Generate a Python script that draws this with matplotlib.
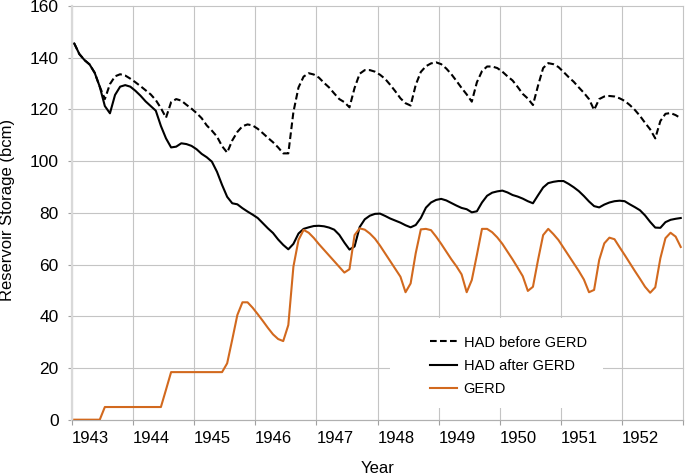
import numpy as np
import matplotlib.pyplot as plt
from matplotlib.patches import Rectangle

# monthly storage (bcm), Jan 1943 .. Dec 1952
years = list(range(1943, 1953))
series_labels = ["HAD before GERD", "HAD after GERD", "GERD"]

had_before = [
    145.5, 141.4, 139.1, 137.4, 134.2, 128.8, 124.0, 129.8, 132.8, 133.6, 133.1, 131.9,
    130.5, 129.0, 127.4, 125.8, 123.6, 120.5, 116.8, 122.8, 124.0, 123.4, 121.8, 120.3,
    118.6, 116.6, 113.8, 111.8, 109.5, 105.8, 103.3, 108.0, 111.3, 113.5, 114.2, 113.8,
    112.5, 110.8, 109.0, 107.3, 105.3, 103.0, 103.0, 119.0, 128.5, 132.7, 134.0, 133.5,
    132.3, 130.3, 128.5, 126.2, 124.0, 122.8, 120.8, 128.3, 133.8, 135.2, 135.2, 134.6,
    133.4, 131.8, 129.5, 127.0, 124.3, 122.4, 121.5, 129.5, 134.5, 136.7, 137.8, 138.2,
    137.5, 135.8, 133.6, 131.0, 128.3, 125.8, 123.0, 130.5, 134.8, 136.6, 136.6, 136.0,
    134.6, 132.8, 131.2, 128.7, 126.0, 124.2, 121.7, 129.2, 136.0, 137.9, 137.5, 136.4,
    134.5, 132.5, 130.7, 128.5, 126.4, 124.0, 119.8, 124.0, 125.0, 125.2, 125.0, 124.3,
    123.3, 121.7, 119.8, 117.5, 114.8, 112.3, 108.8, 115.5, 118.3, 118.6, 117.8, 116.6,
]

had_after = [
    145.5, 141.4, 139.1, 137.4, 134.2, 128.8, 121.3, 118.5, 125.6, 128.8, 129.4, 128.8,
    127.2, 125.3, 123.1, 121.3, 119.5, 113.6, 108.8, 105.3, 105.6, 106.9, 106.6, 105.9,
    104.6, 102.8, 101.5, 99.8, 95.9, 90.8, 86.2, 83.7, 83.3, 81.8, 80.5, 79.3,
    78.0, 76.0, 74.0, 72.2, 69.7, 67.6, 65.9, 68.0, 72.0, 73.8, 74.4, 74.9,
    75.0, 74.8, 74.3, 73.5, 71.5, 68.5, 65.8, 67.0, 74.5, 77.5, 78.9, 79.6,
    79.7, 78.8, 77.8, 77.0, 76.2, 75.2, 74.4, 75.3, 78.0, 82.0, 84.0, 85.0,
    85.4, 84.8, 83.8, 82.8, 81.9, 81.4, 80.2, 80.6, 84.0, 86.6, 87.8, 88.3,
    88.6, 87.9, 86.9, 86.3, 85.5, 84.5, 83.7, 86.8, 89.8, 91.5, 92.0, 92.3,
    92.3, 91.2, 89.9, 88.4, 86.5, 84.4, 82.6, 82.1, 83.2, 84.0, 84.5, 84.7,
    84.5, 83.3, 82.2, 81.0, 79.0, 76.5, 74.3, 74.2, 76.4, 77.3, 77.7, 78.0,
]

gerd = [
    0, 0, 0, 0, 0, 0, 4.9, 4.9, 4.9, 4.9, 4.9, 4.9,
    4.9, 4.9, 4.9, 4.9, 4.9, 4.9, 11.6, 18.4, 18.4, 18.4, 18.4, 18.4,
    18.4, 18.4, 18.4, 18.4, 18.4, 18.4, 21.8, 31.0, 40.5, 45.4, 45.4, 43.3,
    40.8, 38.2, 35.5, 33.0, 31.2, 30.4, 36.6, 59.2, 69.5, 73.4, 72.3, 70.3,
    67.9, 65.7, 63.5, 61.3, 59.1, 56.9, 58.2, 71.4, 74.0, 73.5, 72.0, 70.0,
    67.3, 64.3, 61.3, 58.3, 55.3, 49.3, 52.7, 64.4, 73.6, 73.8, 73.3, 70.8,
    68.0, 65.0, 62.0, 59.3, 56.2, 49.3, 54.0, 63.7, 73.8, 73.8, 72.5, 70.5,
    68.0, 65.0, 62.0, 58.8, 55.5, 49.8, 51.4, 61.8, 71.4, 73.8, 71.8, 69.5,
    66.5, 63.5, 60.5, 57.5, 54.2, 49.3, 50.2, 61.8, 68.2, 70.4, 69.8, 66.7,
    63.7, 60.6, 57.5, 54.5, 51.4, 49.1, 51.2, 62.4, 70.2, 72.3, 70.8, 66.8,
]

months = years[0] + (np.arange(len(gerd)) + 0.5) / 12

plt.rcParams['font.family'] = ['Liberation Sans', 'DejaVu Sans']
fig = plt.figure(figsize=(6.85, 4.76), dpi=100)
ax = fig.add_axes([0.1047, 0.1183, 0.8928, 0.8691])

ax.plot(months, had_before, color='black', lw=1.5, dashes=(3.2, 1.6), label=series_labels[0], zorder=3)
ax.plot(months, had_after, color='black', lw=1.5, label=series_labels[1], zorder=3)
ax.plot(months, gerd, color='#D2691E', lw=1.5, label=series_labels[2], zorder=4)

ax.set_xlim(1943, 1953)
ax.set_ylim(0, 160)
ax.set_xticks(range(1943, 1954))
ax.set_xticklabels([str(y) for y in years] + [''])
for lab in ax.get_xticklabels():
    lab.set_ha('left')
ax.set_yticks(range(0, 161, 20))

ax.set_axisbelow(True)
ax.grid(True, color='#c4c4c4', lw=0.8)
for gl in ax.get_xgridlines() + ax.get_ygridlines():
    gl.set_clip_on(False)

for s in ['top', 'right']:
    ax.spines[s].set_visible(False)
ax.spines['bottom'].set_color('#b0b0b0')
ax.spines['bottom'].set_linewidth(0.8)
ax.spines['left'].set_color('#d9d9d9')
ax.spines['left'].set_linewidth(1.6)

ax.tick_params(axis='x', length=3.5, color='#a0a0a0', width=0.8, pad=5, labelsize=12)
ax.tick_params(axis='y', length=3, color='#a0a0a0', width=0.8, pad=6.5, labelsize=12.5)

# white area behind the legend hides the grid
ax.add_patch(Rectangle((0.5205, 0.0283), 0.3482, 0.2175, transform=ax.transAxes,
                       facecolor='white', edgecolor='none', zorder=1))
ax.legend(loc='center left', bbox_to_anchor=(0.5858, 0.1298), frameon=False,
          fontsize=10.5, handlelength=1.85, handletextpad=0.45, labelspacing=0.65,
          borderpad=0, borderaxespad=0)

fig.text(377.5 / 685, 1 - 473 / 476, 'Year', ha='center', va='baseline', fontsize=12)
fig.text(8 / 685, 1 - 210 / 476, 'Reservoir Storage (bcm)', rotation=90,
         ha='center', va='center', fontsize=12)

fig.savefig('out.png', dpi=100)
